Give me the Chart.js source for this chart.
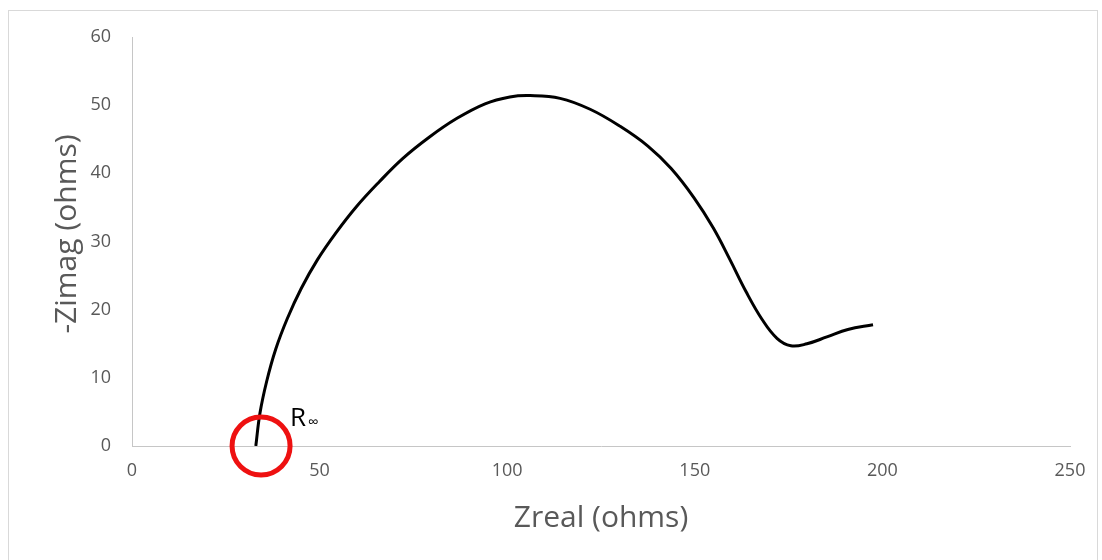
<!DOCTYPE html>
<html>
<head>
<meta charset="utf-8">
<title>Nyquist plot</title>
<script src="https://cdn.jsdelivr.net/npm/chart.js@4/dist/chart.umd.min.js"></script>
<style>
  html, body { margin: 0; padding: 0; background: #fff; }
  #wrap { position: relative; width: 1102px; height: 560px; }
</style>
</head>
<body>
<div id="wrap"><canvas id="nyquist" width="1102" height="560"></canvas></div>
<script>
// impedance spectrum (ohms)
const zReal = [33.0, 34.1, 35.9, 38.3, 41.4, 45.1, 49.4, 54.4, 59.8, 65.8, 72.2, 79.2, 86.4, 94.1, 100.7, 106.1,
               114.1, 122.1, 130.1, 137.5, 143.7, 149.8, 154.9, 159.4, 163.6, 167.9, 171.9, 175.6,
               179.9, 185.2, 190.8, 197.5];
const zImag = [0, 4.8, 9.5, 14.2, 18.7, 23.1, 27.3, 31.3, 35.1, 38.7, 42.2, 45.3, 48.0, 50.2, 51.2, 51.4,
               51.0, 49.4, 46.9, 44.0, 40.7, 36.4, 32.0, 27.3, 22.7, 18.6, 15.8, 14.7,
               15.0, 16.0, 17.1, 17.8];
const xTicks = [0, 50, 100, 150, 200, 250];
const yTicks = [0, 10, 20, 30, 40, 50, 60];
const rInf = { x: 34.4, y: 0 };

const AXIS_GRAY = '#595959';
const LINE_GRAY = '#c6c6c6';

const points = zReal.map((x, i) => ({ x, y: zImag[i] }));

// frame, R-infinity marker and axis titles
const decorations = {
    id: 'decorations',
    beforeDraw(chart) {
        const ctx = chart.ctx;
        ctx.save();
        ctx.fillStyle = '#fff';
        ctx.fillRect(0, 0, chart.width, chart.height);
        ctx.strokeStyle = '#d9d9d9';
        ctx.lineWidth = 1;
        ctx.strokeRect(8.5, 10.5, 1089, 560);
        ctx.restore();
    },
    afterDraw(chart) {
        const { ctx, scales: { x, y }, chartArea } = chart;
        const cx = x.getPixelForValue(rInf.x);
        const cy = y.getPixelForValue(rInf.y);

        ctx.save();
        ctx.strokeStyle = '#ee1111';
        ctx.lineWidth = 5;
        ctx.beginPath();
        ctx.arc(cx, cy, 29, 0, Math.PI * 2);
        ctx.stroke();

        ctx.fillStyle = '#000';
        ctx.textBaseline = 'alphabetic';
        ctx.font = '26px "Open Sans"';
        ctx.fillText('R', cx + 29, cy - 20);
        ctx.font = '15px "Open Sans"';
        ctx.fillText('∞', cx + 47, cy - 19);

        // axis titles
        ctx.fillStyle = AXIS_GRAY;
        ctx.font = '30px "Open Sans"';
        ctx.textAlign = 'center';
        ctx.textBaseline = 'middle';
        ctx.fillText('Zreal (ohms)', (chartArea.left + chartArea.right) / 2, 518);

        ctx.translate(67, 234);
        ctx.rotate(-Math.PI / 2);
        ctx.fillText('-Zimag (ohms)', 0, 0);
        ctx.restore();
    }
};

new Chart(document.getElementById('nyquist'), {
    type: 'scatter',
    data: {
        datasets: [{
            label: 'Impedance',
            data: points,
            showLine: true,
            borderColor: '#000',
            borderWidth: 3,
            tension: 0.4,
            pointRadius: 0,
            fill: false
        }]
    },
    options: {
        responsive: false,
        animation: false,
        layout: { padding: { left: 0, top: 37, right: 32, bottom: 0 } },
        plugins: {
            legend: { display: false },
            tooltip: { enabled: false }
        },
        scales: {
            x: {
                type: 'linear',
                min: 0,
                max: 250,
                afterFit(scale) { scale.height = 560 - 446; },
                afterBuildTicks(scale) { scale.ticks = xTicks.map(v => ({ value: v })); },
                grid: { display: false, drawTicks: false },
                border: { display: true, color: LINE_GRAY, width: 1 },
                ticks: {
                    padding: 14,
                    color: AXIS_GRAY,
                    font: { family: '"Open Sans"', size: 18 }
                }
            },
            y: {
                type: 'linear',
                min: 0,
                max: 60,
                afterFit(scale) { scale.width = 132; },
                afterBuildTicks(scale) { scale.ticks = yTicks.map(v => ({ value: v })); },
                grid: { display: false, drawTicks: false },
                border: { display: true, color: LINE_GRAY, width: 1 },
                ticks: {
                    padding: 21,
                    color: AXIS_GRAY,
                    font: { family: '"Open Sans"', size: 18 }
                }
            }
        }
    },
    plugins: [decorations]
});
</script>
</body>
</html>
